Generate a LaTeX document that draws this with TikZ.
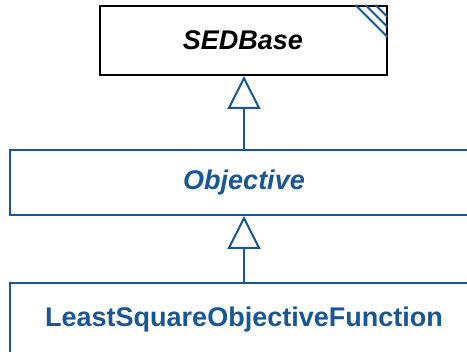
\documentclass[tikz,border=0pt]{standalone}
\usepackage{fontspec}
\setmainfont{Liberation Sans}
\usetikzlibrary{arrows.meta}
\definecolor{umlblue}{RGB}{24,86,150}

\begin{document}
\begin{tikzpicture}[x=1pt,y=-1pt,
  classbox/.style={draw=umlblue, line width=2pt, fill=white, text=umlblue,
    inner sep=0pt, font=\fontsize{27}{30}\selectfont\bfseries},
  inherit/.style={draw=umlblue, line width=2pt,
    -{Triangle[open, length=33pt, width=33pt, line width=2pt]}}]

\useasboundingbox (0,0) rectangle (467,352);
\clip (0,0) rectangle (467,352);

% Define the class boxes
\node[classbox, draw=black, text=black, minimum width=287pt, minimum height=69pt,
  font=\fontsize{27}{30}\selectfont\bfseries\itshape] (base) at (243,40.5) {SEDBase};
\node[classbox, minimum width=468pt, minimum height=65pt,
  font=\fontsize{27}{30}\selectfont\bfseries\itshape] (obj) at (244,182.5) {Objective};
\node[classbox, minimum width=468pt, minimum height=74pt] (lsq) at (244,320) {LeastSquareObjectiveFunction};

% Draw the hatch in the corner of the base class
\foreach \d in {12,22,32}
  \draw[umlblue, line width=2pt] ([xshift=-\d pt]base.north east) -- ([yshift=-\d pt]base.north east);

% Draw the inheritance arrows
\draw[inherit] (obj.north) -- (obj.north |- base.south);
\draw[inherit] (lsq.north) -- (lsq.north |- obj.south);
\end{tikzpicture}
\end{document}
